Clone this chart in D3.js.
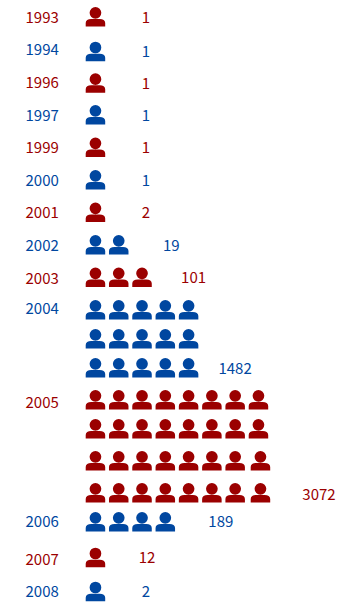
<!DOCTYPE html>
<html>
<head>
<meta charset="utf-8">
<script src="https://cdn.jsdelivr.net/npm/d3@7"></script>
<style>
  html, body { margin: 0; padding: 0; background: #fff; }
  svg { display: block; }
  text { font-family: "Noto Sans CJK SC", "Noto Sans", sans-serif; font-size: 15px; }
</style>
</head>
<body>
<svg></svg>
<script>
const years = [1993, 1994, 1996, 1997, 1999, 2000, 2001, 2002, 2003, 2004, 2005, 2006, 2007, 2008];
const parties = ['r', 'b', 'r', 'b', 'r', 'b', 'r', 'b', 'r', 'b', 'r', 'b', 'r', 'b'];
const totals = [1, 1, 1, 1, 1, 1, 2, 19, 101, 1482, 3072, 189, 12, 2];
const rowsPerYear = [1, 1, 1, 1, 1, 1, 1, 1, 1, 3, 4, 1, 1, 1];
const iconsPerRow = [1, 1, 1, 1, 1, 1, 1, 2, 3, 5, 8, 4, 1, 1];

const width = 359;
const height = 608;
const color = d3.scaleOrdinal().domain(['r', 'b']).range(['#9b0000', '#0047a0']);

// rows are not evenly spaced in the picture, so the scale is piecewise
const yScale = d3.scaleLinear()
  .domain([0, 1, 3, 9, 11, 12, 13, 15, 16, 17, 18])
  .range([7, 41.7, 105, 300, 358, 390, 419, 483, 512, 547.7, 581.7]);

const xScale = d3.scaleLinear().domain([0, 7]).range([85.7, 248.7]);

// small hand nudges for the labels
const valueNudge = {1482: -4, 3072: 10, 189: 5, 19: 2, 101: 1, 12: 1};
const yearNudge = {1994: -2, 1996: -1, 2003: 1, 2004: -2, 2005: 2, 2006: -1, 2007: 2};
const valueRise = {189: -1, 3072: 1};

const svg = d3.select('svg')
  .attr('width', width)
  .attr('height', height);

const rows = [];
years.forEach((year, i) => {
  d3.range(rowsPerYear[i]).forEach(r => {
    rows.push({year, party: parties[i], count: iconsPerRow[i], first: r === 0, last: r === rowsPerYear[i] - 1, total: totals[i], r});
  });
});
rows.forEach((d, i) => { d.row = i; });

const person = d3.path();
person.moveTo(15.6, 5.8);
person.arc(9.75, 5.8, 5.85, 0, 2 * Math.PI);
person.closePath();
person.moveTo(0, 19.5);
person.lineTo(0, 16);
person.bezierCurveTo(0, 13.4, 2.2, 12, 5.5, 12);
person.lineTo(14, 12);
person.bezierCurveTo(17.3, 12, 19.5, 13.4, 19.5, 16);
person.lineTo(19.5, 19.5);
person.closePath();

const rowG = svg.selectAll('g.row')
  .data(rows)
  .join('g')
    .attr('class', 'row')
    .attr('transform', d => `translate(0, ${yScale(d.row)})`);

rowG.selectAll('path')
  .data(d => d3.range(d.count).map(col => ({col, party: d.party, nudge: d.year === 2005 && d.r >= 2 && col === 7 ? 2 : 0})))
  .join('path')
    .attr('d', person.toString())
    .attr('fill', d => color(d.party))
    .attr('transform', d => `translate(${xScale(d.col) + d.nudge}, 0)`);

rowG.filter(d => d.first).append('text')
  .text(d => d.year)
  .attr('x', 25.5)
  .attr('y', 15.7)
  .attr('dy', d => yearNudge[d.year] || 0)
  .attr('fill', d => color(d.party));

rowG.filter(d => d.last).append('text')
  .text(d => d.total)
  .attr('x', d => xScale(d.count) + 37 + (valueNudge[d.total] || 0))
  .attr('y', 15.7)
  .attr('dy', d => valueRise[d.total] || 0)
  .attr('text-anchor', 'middle')
  .attr('fill', d => color(d.party));
</script>
</body>
</html>
